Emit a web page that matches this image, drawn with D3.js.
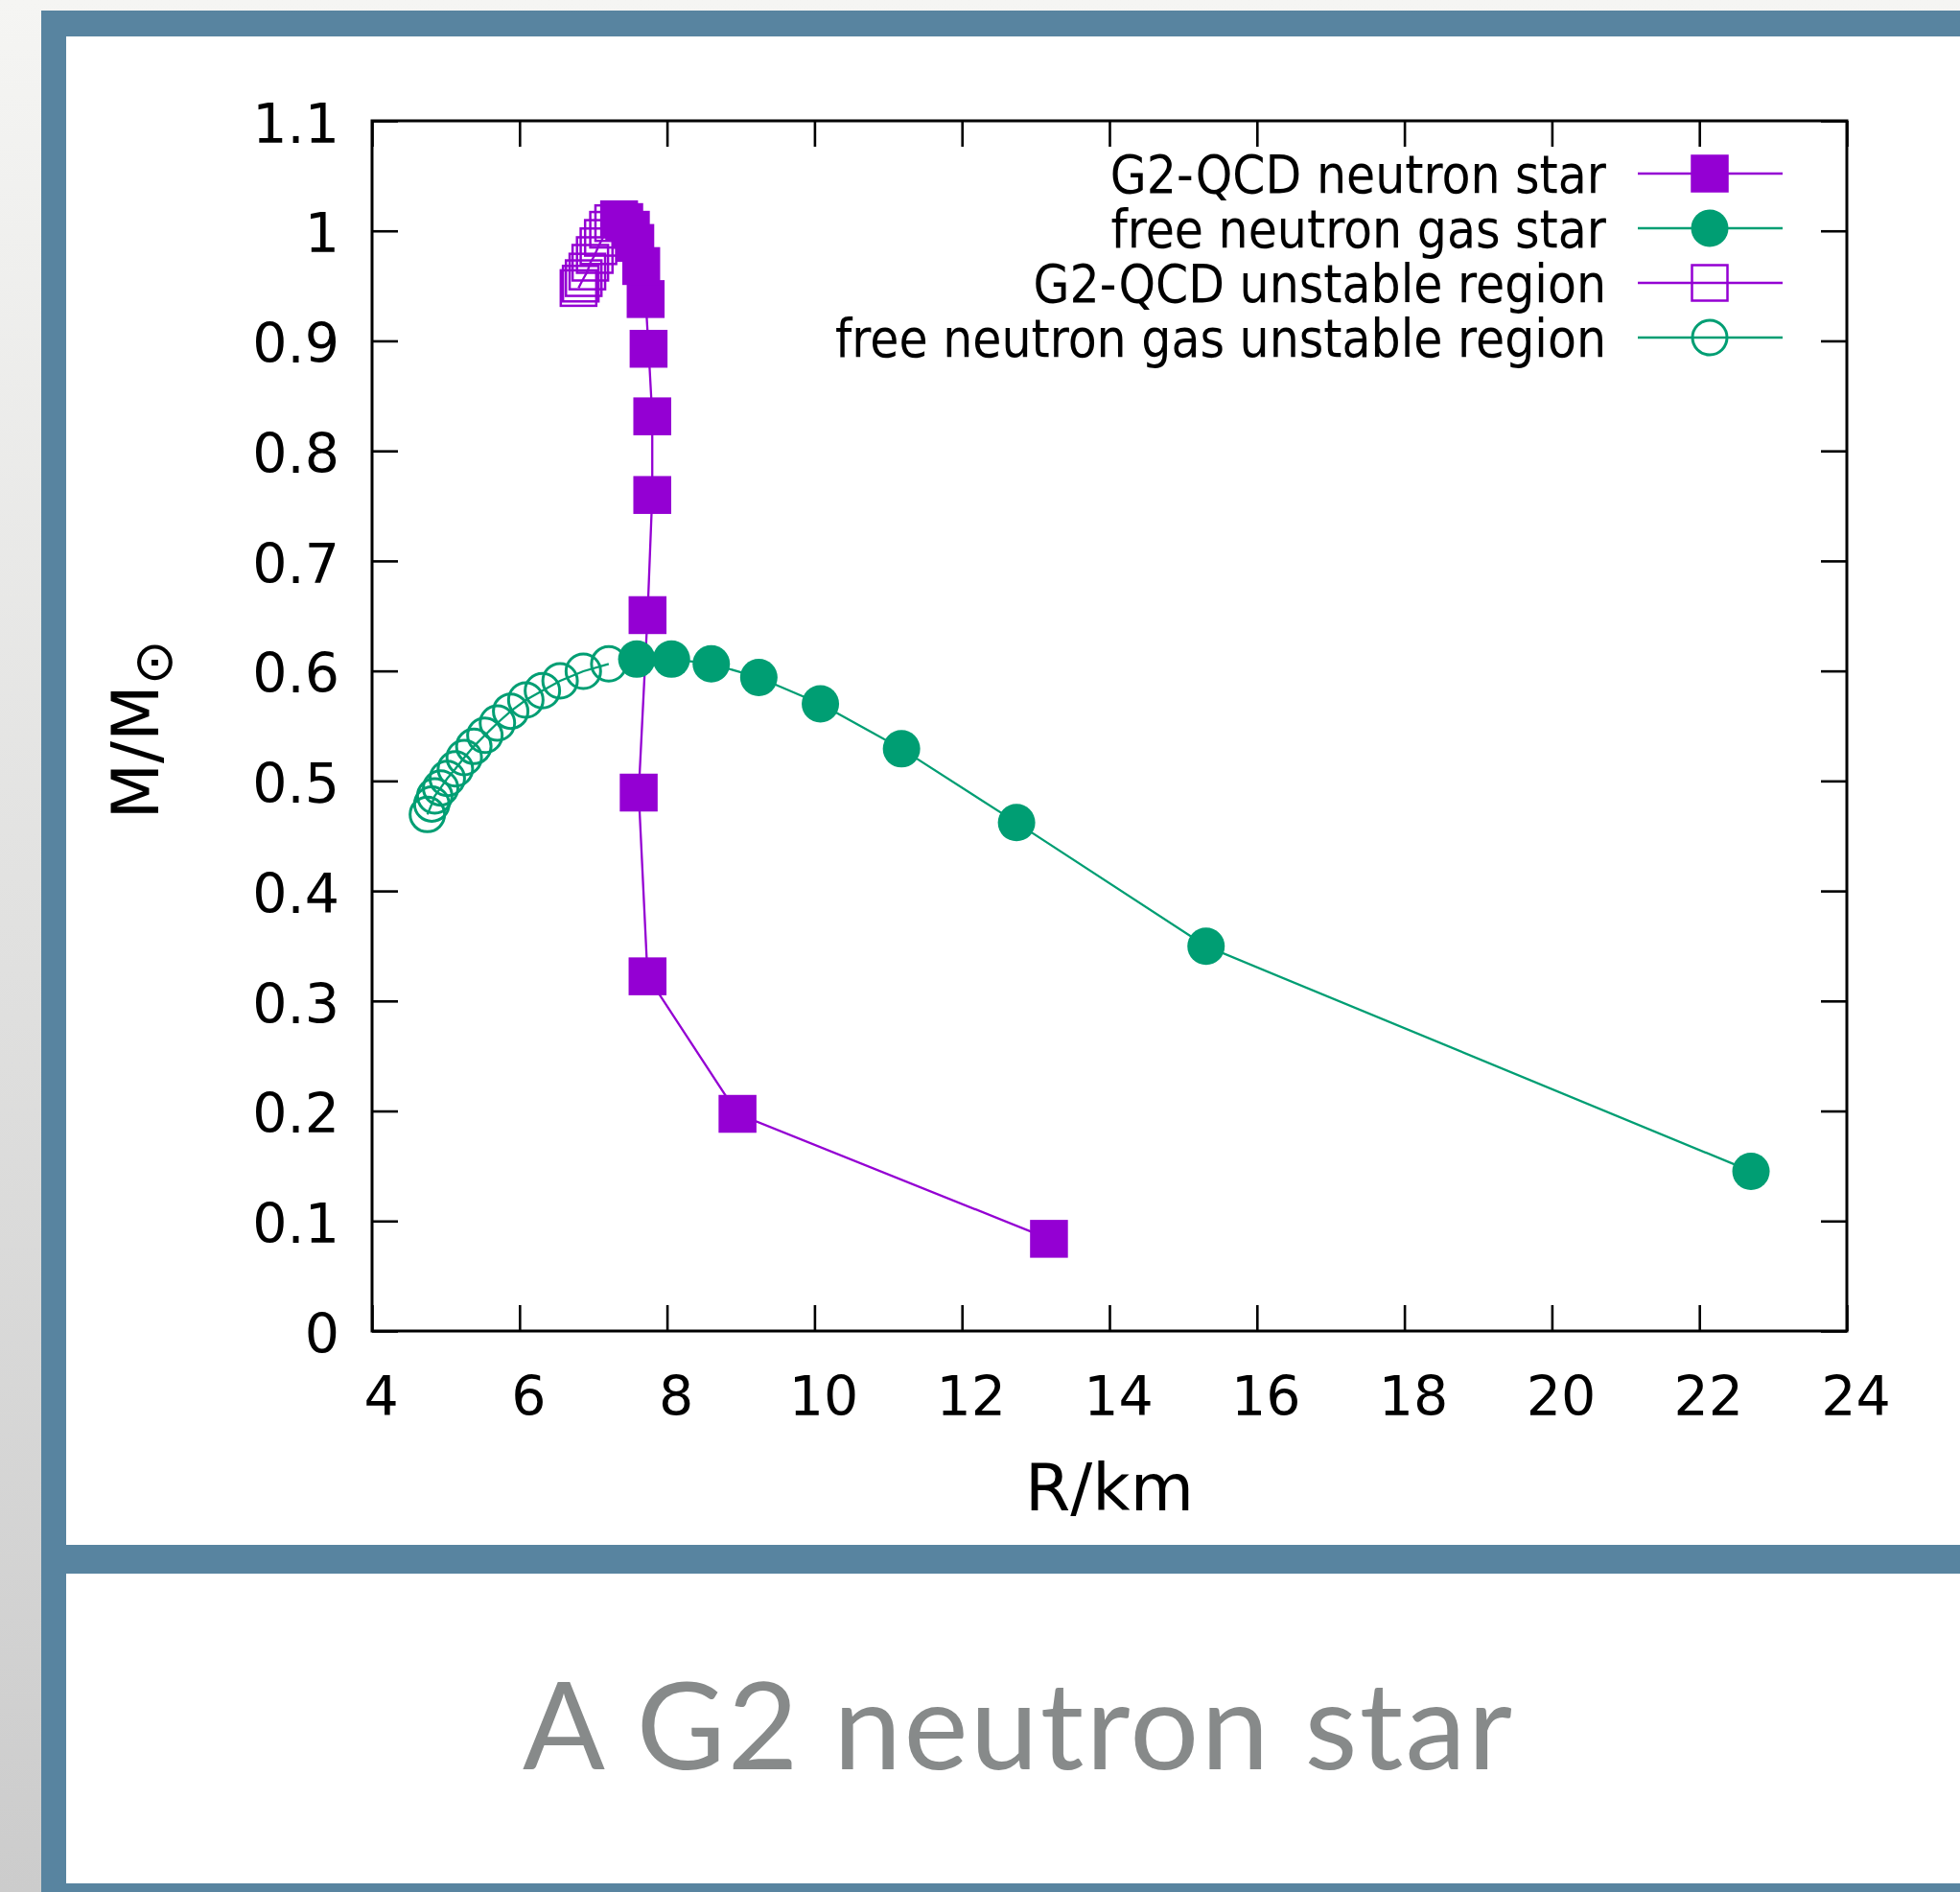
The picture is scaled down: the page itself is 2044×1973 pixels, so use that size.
<!DOCTYPE html>
<html>
<head>
<meta charset="utf-8">
<script src="https://cdn.jsdelivr.net/npm/d3@7"></script>
<style>
html,body{margin:0;padding:0;background:#fff;}
svg{display:block;}
</style>
</head>
<body>
<svg id="chart" width="2044" height="1973"></svg>
<script>
// ---- data ----
const g2StableR = [13.18, 8.956, 7.736, 7.616, 7.736, 7.80, 7.80, 7.75, 7.71, 7.65, 7.57, 7.51, 7.42, 7.35];
const g2StableM = [0.0838, 0.1974, 0.3224, 0.4894, 0.6507, 0.7599, 0.8314, 0.8928, 0.938, 0.968, 0.989, 1.001, 1.008, 1.0105];

const gasStableR = [22.70, 15.31, 12.74, 11.18, 10.08, 9.245, 8.60, 8.06, 7.59];
const gasStableM = [0.1452, 0.3497, 0.4621, 0.5292, 0.5701, 0.594, 0.6065, 0.6107, 0.6107];

const g2UnstableR = [7.27, 7.20, 7.13, 7.07, 7.02, 6.96, 6.92, 6.87, 6.83, 6.80];
const g2UnstableM = [1.007, 1.001, 0.9936, 0.986, 0.978, 0.971, 0.963, 0.957, 0.952, 0.948];

const gasUnstableR = [7.21, 6.865, 6.55, 6.31, 6.085, 5.88, 5.70, 5.53, 5.38, 5.25, 5.13, 5.02, 4.93, 4.85, 4.81, 4.75];
const gasUnstableM = [0.6064, 0.5997, 0.591, 0.582, 0.5735, 0.5634, 0.5526, 0.5415, 0.5314, 0.5212, 0.511, 0.5023, 0.4936, 0.4863, 0.479, 0.4695];

const xTicks = [4, 6, 8, 10, 12, 14, 16, 18, 20, 22, 24];
const yTicks = [0, 0.1, 0.2, 0.3, 0.4, 0.5, 0.6, 0.7, 0.8, 0.9, 1, 1.1];
const legendLabels = ["G2-QCD neutron star", "free neutron gas star", "G2-QCD unstable region", "free neutron gas unstable region"];
const xLabel = "R/km";
const yLabel = "M/M";
const yLabelSub = "\u2299";
const title = "A G2 neutron star";

// ---- layout ----
const svg = d3.select("#chart");
const W = 2044, H = 1973;
const purple = "#9400d3", green = "#009e73", frameCol = "#5884a0";
const L = 388, R = 1926, T = 126, B = 1388;

const defs = svg.append("defs");
const grad = defs.append("linearGradient").attr("id","bg").attr("x1",0).attr("y1",0).attr("x2",0).attr("y2",1);
grad.append("stop").attr("offset","0%").attr("stop-color","#f5f5f3");
grad.append("stop").attr("offset","100%").attr("stop-color","#cccccc");
svg.append("rect").attr("width",W).attr("height",H).attr("fill","url(#bg)");

// frame
svg.append("rect").attr("x",43).attr("y",11).attr("width",W-43).attr("height",H-11).attr("fill",frameCol);
svg.append("rect").attr("x",69).attr("y",38).attr("width",W-69).attr("height",1611-38).attr("fill","#fff");
svg.append("rect").attr("x",69).attr("y",1641).attr("width",W-69).attr("height",1964-1641).attr("fill","#fff");

const x = d3.scaleLinear().domain([4,24]).range([L,R]);
const y = d3.scaleLinear().domain([0,1.1]).range([B,T]);

const fontTick = "'DejaVu Sans', sans-serif";
const fontLegend = "'DejaVu Sans Condensed', 'DejaVu Sans', sans-serif";
const tickLen = 27;

const axB = svg.append("g").attr("transform",`translate(0,${B})`)
  .call(d3.axisBottom(x).tickValues(xTicks).tickSizeInner(-tickLen).tickSizeOuter(0).tickPadding(48).tickFormat(d3.format("d")));
const axL = svg.append("g").attr("transform",`translate(${L},0)`)
  .call(d3.axisLeft(y).tickValues(yTicks).tickSizeInner(-tickLen).tickSizeOuter(0).tickPadding(34).tickFormat(d => d === 0 ? "0" : (d === 1 ? "1" : d3.format(".1f")(d))));
const axT = svg.append("g").attr("transform",`translate(0,${T})`)
  .call(d3.axisTop(x).tickValues(xTicks).tickSizeInner(-tickLen).tickSizeOuter(0).tickFormat(""));
const axR = svg.append("g").attr("transform",`translate(${R},0)`)
  .call(d3.axisRight(y).tickValues(yTicks).tickSizeInner(-tickLen).tickSizeOuter(0).tickFormat(""));

[axB, axL, axT, axR].forEach(a => {
  a.select(".domain").remove();
  a.selectAll(".tick line").attr("stroke","#000").attr("stroke-width",2.6);
  a.selectAll(".tick text").attr("font-family",fontTick).attr("font-size",57).attr("fill","#000");
});
axB.selectAll(".tick text").attr("dx",9);
axL.selectAll(".tick text").attr("dy","0.39em");
svg.append("rect").attr("x",L).attr("y",T).attr("width",R-L).attr("height",B-T)
  .attr("fill","none").attr("stroke","#000").attr("stroke-width",3);

// axis titles
svg.append("text").attr("x",(L+R)/2).attr("y",1575).attr("text-anchor","middle")
  .attr("font-family",fontTick).attr("font-size",68).attr("fill","#000").text(xLabel);
const yl = svg.append("text").attr("transform",`translate(165,${(T+B)/2 + 4}) rotate(-90)`).attr("text-anchor","middle")
  .attr("font-family",fontTick).attr("font-size",68).attr("fill","#000");
yl.append("tspan").text(yLabel);
yl.append("tspan").attr("font-size",56).attr("dy",14).text(yLabelSub);

// ---- series ----
const line = d3.line().x(d => x(d[0])).y(d => y(d[1]));
const zipS = (a,b) => a.map((v,i) => [v,b[i]]);
const g2S = zipS(g2StableR, g2StableM), gasS = zipS(gasStableR, gasStableM);
const g2U = zipS(g2UnstableR, g2UnstableM), gasU = zipS(gasUnstableR, gasUnstableM);

const sq = 39.5, sqOpen = 37, rFill = 19.5, rOpen = 18;
const plot = svg.append("g");

function drawSeries(data, color, type){
  const g = plot.append("g");
  g.append("path").attr("d",line(data)).attr("fill","none").attr("stroke",color).attr("stroke-width",2.3);
  if(type==="sqF"){
    g.selectAll("rect").data(data).join("rect")
      .attr("x",d=>x(d[0])-sq/2).attr("y",d=>y(d[1])-sq/2).attr("width",sq).attr("height",sq).attr("fill",color);
  } else if(type==="sqO"){
    g.selectAll("rect").data(data).join("rect")
      .attr("x",d=>x(d[0])-sqOpen/2).attr("y",d=>y(d[1])-sqOpen/2).attr("width",sqOpen).attr("height",sqOpen)
      .attr("fill","none").attr("stroke",color).attr("stroke-width",2.5);
  } else if(type==="cF"){
    g.selectAll("circle").data(data).join("circle")
      .attr("cx",d=>x(d[0])).attr("cy",d=>y(d[1])).attr("r",rFill).attr("fill",color);
  } else {
    g.selectAll("circle").data(data).join("circle")
      .attr("cx",d=>x(d[0])).attr("cy",d=>y(d[1])).attr("r",rOpen)
      .attr("fill","none").attr("stroke",color).attr("stroke-width",3);
  }
}
drawSeries(g2U, purple, "sqO");
drawSeries(gasU, green, "cO");
drawSeries(g2S, purple, "sqF");
drawSeries(gasS, green, "cF");

// ---- legend ----
const legTypes = [["sqF",purple],["cF",green],["sqO",purple],["cO",green]];
const legY0 = 181, legDy = 57;
legendLabels.forEach((lab,i) => {
  const yy = legY0 + i*legDy;
  const [t,c] = legTypes[i];
  svg.append("text").attr("x",1675).attr("y",yy+20).attr("text-anchor","end")
    .attr("font-family",fontLegend).attr("font-stretch","condensed").attr("font-size",54.5).attr("fill","#000").text(lab);
  svg.append("line").attr("x1",1708).attr("x2",1859).attr("y1",yy).attr("y2",yy).attr("stroke",c).attr("stroke-width",2.3);
  const cx = 1783;
  if(t==="sqF") svg.append("rect").attr("x",cx-sq/2).attr("y",yy-sq/2).attr("width",sq).attr("height",sq).attr("fill",c);
  else if(t==="sqO") svg.append("rect").attr("x",cx-sqOpen/2).attr("y",yy-sqOpen/2).attr("width",sqOpen).attr("height",sqOpen).attr("fill","none").attr("stroke",c).attr("stroke-width",2.5);
  else if(t==="cF") svg.append("circle").attr("cx",cx).attr("cy",yy).attr("r",rFill).attr("fill",c);
  else svg.append("circle").attr("cx",cx).attr("cy",yy).attr("r",rOpen).attr("fill","none").attr("stroke",c).attr("stroke-width",3);
});

// ---- title ----
svg.append("text").attr("x",1061).attr("y",1845).attr("text-anchor","middle")
  .attr("font-family","Lato, 'Open Sans', sans-serif").attr("font-size",127).attr("fill","#878a8a")
  .attr("textLength",1032).attr("lengthAdjust","spacing").text(title);
</script>
</body>
</html>
